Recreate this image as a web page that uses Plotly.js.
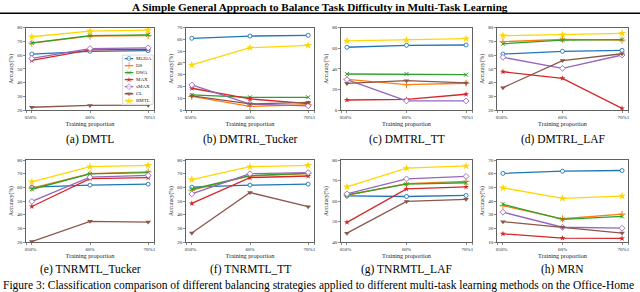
<!DOCTYPE html>
<html><head><meta charset="utf-8">
<script src="https://cdn.plot.ly/plotly-3.0.1.min.js"></script>
<style>html,body{margin:0;padding:0;background:#fff;overflow:hidden}#chart{width:640px;height:292px}</style>
</head><body><div id="chart"></div>
<script>
// ---------- data ----------
const pageTitle = 'A Simple General Approach to Balance Task Difficulty in Multi-Task Learning';
const figureCaption = 'Figure 3: Classification comparison of different balancing strategies applied to different multi-task learning methods on the Office-Home';
const proportions = ['50%', '60%', '70%'];
const methods = ['MGDA', 'DS', 'DWA', 'MAX', 'sMAX', 'CL', 'BMTL'];
const panelNames = ['(a) DMTL', '(b) DMTRL_Tucker', '(c) DMTRL_TT', '(d) DMTRL_LAF',
                    '(e) TNRMTL_Tucker', '(f) TNRMTL_TT', '(g) TNRMTL_LAF', '(h) MRN'];
// rows follow the order of `methods`, columns follow `proportions`
const dmtl         = [[60.8,62.8,63.3],[68.7,73.8,74.3],[68.9,74.2,74.8],[56.2,63.8,64.2],[57.6,64.8,65.3],[22.0,23.3,23.5],[73.4,77.5,78.2]];
const dmtrlTucker  = [[61.0,62.9,63.5],[11.5,3.0,4.5],[12.8,10.8,10.8],[18.5,9.4,5.5],[21.3,5.0,3.5],[12.0,5.2,6.5],[38.3,53.0,55.0]];
const dmtrlTT      = [[61.0,62.9,63.2],[29.8,24.6,26.0],[35.0,35.0,34.3],[9.7,10.3,15.3],[29.5,8.8,8.8],[25.8,28.5,26.3],[67.1,68.0,69.3]];
const dmtrlLAF     = [[60.8,62.8,63.5],[69.8,71.5,71.0],[68.3,71.0,71.3],[47.9,43.1,21.2],[58.4,50.4,60.1],[36.3,56.0,61.0],[74.2,74.9,75.9]];
const tnrmtlTucker = [[60.1,61.6,62.3],[59.4,70.0,71.3],[58.6,69.8,70.8],[46.0,66.4,67.1],[49.7,67.4,68.8],[20.3,35.1,34.6],[64.0,75.1,76.1]];
const tnrmtlTT     = [[60.1,61.6,62.3],[57.9,68.3,70.0],[58.6,68.6,70.3],[48.2,67.1,68.3],[55.2,70.0,70.8],[26.6,56.2,45.8],[65.7,75.1,76.1]];
const tnrmtlLAF    = [[62.5,62.2,62.7],[62.8,68.5,69.6],[63.0,68.2,68.9],[49.6,65.9,66.9],[63.5,70.8,72.0],[44.3,59.8,60.8],[66.9,76.0,77.1]];
const mrn          = [[60.2,61.8,62.3],[36.6,27.0,30.4],[37.6,26.6,28.7],[16.0,12.9,12.6],[31.8,20.8,20.1],[24.9,20.8,16.5],[49.6,41.9,43.6]];
const panelData = [dmtl, dmtrlTucker, dmtrlTT, dmtrlLAF, tnrmtlTucker, tnrmtlTT, tnrmtlLAF, mrn];
// y tick values per panel
const yTicksA = [20,30,40,50,60,70,80];
const yTicksB = [0,10,20,30,40,50,60,70];
const yTicksC = [0,20,40,60,80];
const yTicksG = [40,50,60,70,80];
const yTicksH = [10,20,30,40,50,60,70];
const panelYTicks = [yTicksA, yTicksB, yTicksC, yTicksA, yTicksA, yTicksA, yTicksG, yTicksH];

// ---------- styles ----------
const W = 640, H = 292;
const colors = ['#1f77b4','#ff7f0e','#2ca02c','#d62728','#9467bd','#8c564b','#ffd700'];
const markerStyles = [
  {symbol:'circle', size:4, color:'#ffffff', line:{color:colors[0], width:0.9}},
  {symbol:'cross-thin', size:5, color:colors[1], line:{color:colors[1], width:1}},
  {symbol:'x-thin', size:4, color:colors[2], line:{color:colors[2], width:1}},
  {symbol:'star', size:4.5, color:colors[3], line:{width:0}},
  {symbol:'diamond', size:4.5, color:'#ffffff', line:{color:colors[4], width:0.9}},
  {symbol:'triangle-down', size:5, color:colors[5], line:{width:0}},
  {symbol:'star', size:6, color:colors[6], line:{width:0}}
];
const colPx = [[26,154],[186,314],[341,472],[497,628]];
const rowPx = [[27.7,110],[160,242]];
const font = 'Liberation Serif, Times New Roman, serif';
const frameColor = '#3a3a3a';

const layout = {
  width: W, height: H, margin:{l:0,r:0,t:0,b:0},
  paper_bgcolor:'#fff', plot_bgcolor:'#fff', showlegend:false,
  font:{family:font, color:'#111'},
  annotations:[], shapes:[]
};
const traces = [];

panelData.forEach((data, p) => {
  const r = Math.floor(p/4), c = p%4;
  const n = p === 0 ? '' : String(p+1);
  const xd = [colPx[c][0]/W, colPx[c][1]/W];
  const yd = [1 - rowPx[r][1]/H, 1 - rowPx[r][0]/H];
  const yt = panelYTicks[p];
  layout['xaxis'+n] = {
    domain: xd, anchor:'y'+n, range:[-0.1, 2.1],
    tickvals:[-0.1, ...proportions.map((_,k)=>k), 2.1],
    ticktext:['0', ...proportions, '1'], tickangle:0,
    ticks:'outside', ticklen:2, tickwidth:0.6, tickcolor:frameColor,
    showline:true, mirror:true, linecolor:frameColor, linewidth:0.8,
    showgrid:false, zeroline:false, fixedrange:true,
    tickfont:{family:font, size:5, color:'#222'},
    title:{text:'Training proportion', font:{family:font, size:6.2, color:'#222'}, standoff:2}
  };
  layout['yaxis'+n] = {
    domain: yd, anchor:'x'+n, range:[yt[0], yt[yt.length-1]],
    tickvals: yt, ticktext: yt.map(String), tickangle:0,
    ticks:'outside', ticklen:2, tickwidth:0.6, tickcolor:frameColor,
    showline:true, mirror:true, linecolor:frameColor, linewidth:0.8,
    showgrid:false, zeroline:false, fixedrange:true,
    tickfont:{family:font, size:5, color:'#222'},
    title:{text:'Accuracy(%)', font:{family:font, size:5.6, color:'#222'}, standoff:3}
  };
  data.forEach((vals, m) => {
    traces.push({
      x: proportions.map((_,k)=>k), y: vals,
      xaxis:'x'+n, yaxis:'y'+n, mode:'lines+markers', name:methods[m],
      line:{color:colors[m], width:1.3}, marker:markerStyles[m], showlegend:false
    });
  });
  layout.annotations.push({
    text: panelNames[p], xref:'paper', yref:'paper',
    x:(xd[0]+xd[1])/2, y: 1 - (r === 0 ? 139 : 269)/H,
    xanchor:'center', yanchor:'middle', showarrow:false,
    font:{family:font, size:11.5, color:'#000'}
  });
});

// legend drawn inside panel (a) on its own small axis pair
const legTop = 54.3, legBottom = 105, legLeft = 121.7, legRight = 154;
layout.xaxis9 = {domain:[legLeft/W, legRight/W], anchor:'y9', range:[-0.03,1.03], visible:false, fixedrange:true};
layout.yaxis9 = {domain:[1-legBottom/H, 1-legTop/H], anchor:'x9', range:[-0.6, methods.length-0.4], visible:false, fixedrange:true};
traces.push({
  x:[0,1,1,0,0], y:[-0.5,-0.5,methods.length-0.5,methods.length-0.5,-0.5],
  xaxis:'x9', yaxis:'y9', mode:'lines', fill:'toself', fillcolor:'rgba(255,255,255,0.92)',
  line:{color:'#cfcfcf', width:0.8}, showlegend:false, hoverinfo:'skip'
});
methods.forEach((name, m) => {
  const yy = methods.length - 1 - m;
  traces.push({
    x:[0.07, 0.21, 0.35], y:[yy, yy, yy], xaxis:'x9', yaxis:'y9',
    mode:'lines+markers', line:{color:colors[m], width:1.3},
    marker:Object.assign({}, markerStyles[m], {size:[0, markerStyles[m].size, 0]}),
    showlegend:false, hoverinfo:'skip'
  });
});
traces.push({
  x: methods.map(()=>0.44), y: methods.map((_,m)=>methods.length-1-m), text: methods,
  xaxis:'x9', yaxis:'y9', mode:'text', textposition:'middle right',
  textfont:{family:font, size:5, color:'#222'}, showlegend:false, hoverinfo:'skip', cliponaxis:false
});

// header and footer text
layout.annotations.push({
  text:'<b>'+pageTitle+'</b>', xref:'paper', yref:'paper', x:0.5, y:1-7/H,
  xanchor:'center', yanchor:'middle', showarrow:false, font:{family:font, size:11.2, color:'#000'}
});
layout.shapes.push({type:'line', xref:'paper', yref:'paper', x0:0, x1:1, y0:1-13.3/H, y1:1-13.3/H, line:{color:'#000', width:1.4}});
layout.annotations.push({
  text: figureCaption, xref:'paper', yref:'paper', x:0.002, y:1-285.5/H,
  xanchor:'left', yanchor:'middle', showarrow:false, font:{family:font, size:11.5, color:'#000'}
});

Plotly.newPlot('chart', traces, layout, {staticPlot:true, displayModeBar:false});
</script></body></html>
